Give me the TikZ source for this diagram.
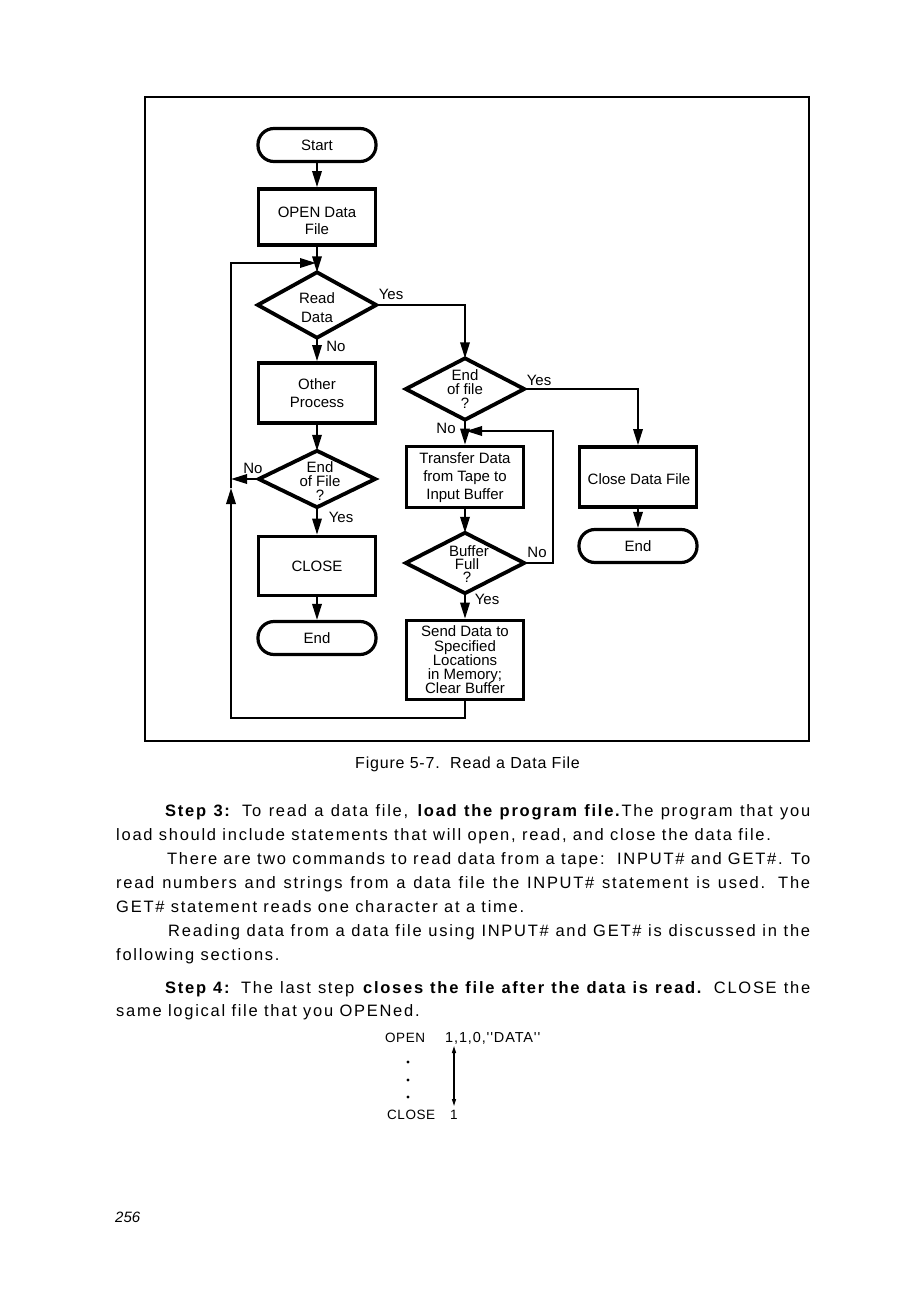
\documentclass[tikz,border=0pt]{standalone}
\usepackage{fontspec}
\setmainfont{Liberation Sans}
\newfontfamily\bodyfont{Liberation Sans}[LetterSpace=10.5]
\newfontfamily\capfont{Liberation Sans}[LetterSpace=5]
\newfontfamily\codefont{Liberation Sans}[LetterSpace=4]
\newfontfamily\codewidefont{Liberation Sans}[LetterSpace=6]
\usetikzlibrary{arrows.meta}
\newcommand\dfont[1]{\fontsize{15}{#1}\selectfont}
\tikzset{
  box/.style={draw, line width=3.8pt, minimum width=117pt, inner sep=0pt, align=center, font=\dfont{18}},
  btext/.style={inner sep=0pt, align=center, font=\dfont{18}},
  term/.style={draw, line width=3.2pt, rounded corners=16pt, minimum width=118pt, minimum height=33pt, inner sep=0pt, font=\dfont{18}},
  dia/.style={minimum width=118pt, inner sep=0pt},
  dtext/.style={inner sep=0pt, align=center},
  diaborder/.style={line width=3.8pt},
  conn/.style={line width=1.8pt},
  arr/.style={conn, -{Triangle[length=16pt,width=9.5pt]}},
  lbl/.style={font=\dfont{18}, inner sep=0pt},
  txt/.style={anchor=base west, inner sep=0pt, font=\fontsize{16.5}{19}\selectfont\bodyfont},
  code/.style={anchor=base west, inner sep=0pt, font=\fontsize{13.5}{16}\selectfont\codefont},
}
\begin{document}
\begin{tikzpicture}[x=1pt,y=-1pt]
\useasboundingbox (0,0) rectangle (919,1313);
\fill[white] (0,0) rectangle (919,1313);
% frame
\draw[line width=2.2pt] (145,97) rectangle (809,741);
% left column
\node[term] (start) at (317,145) {Start};
\node[box, minimum height=56pt] (open) at (317,217) {};
\node[btext, font=\dfont{17}] (openT) at (317,220.5) {OPEN Data\\File};
\node[dia, minimum height=65pt] (read) at (317,305) {};
\node[dtext, font=\dfont{19}] (readT) at (317,307.5) {Read\\Data};
\node[box, minimum height=60pt] (other) at (317,393) {Other\\Process};
\node[dia, minimum width=116pt, minimum height=56pt] (eofL) at (317,479) {};
\node[dtext, font=\dfont{14}] (eofLT) at (320,481.5) {End\\of File\\?};
\node[box, minimum height=59pt] (close) at (317,566) {CLOSE};
\node[term] (endL) at (317,638) {End};
% middle column
\node[dia, minimum height=61pt] (eofR) at (465,389) {};
\node[dtext, font=\dfont{14}] (eofRT) at (465,389) {End\\of file\\?};
\node[box, minimum height=61pt] (transfer) at (465,477) {};
\node[btext] (transferT) at (465,478) {Transfer Data\\from Tape to\\Input Buffer};
\node[dia, minimum height=60pt] (buf) at (465,563) {};
\node[dtext, font=\dfont{13}] (bufT) at (467,564) {\hspace*{4pt}Buffer\\Full\\?};
\node[box, minimum height=79pt, font=\dfont{14.3}] (send) at (465,660) {Send Data to\\Specified\\Locations\\in Memory;\\Clear Buffer};
% right column
\node[box, minimum height=60pt] (closeR) at (638,477) {};
\node[btext] (closeRT) at (639,479) {Close Data File};
\node[term] (endR) at (638,546) {End};
% diamond borders
\foreach \d in {read,eofL,eofR,buf}
  \draw[diaborder] (\d.north) -- (\d.east) -- (\d.south) -- (\d.west) -- cycle;
% helper coordinates
\coordinate (lb) at (231,718);
\coordinate (lup) at (231,488);
\coordinate (lt) at (231,263);
\coordinate (lj) at (316,263);
\coordinate (bl) at (553,431);
\coordinate (tin) at (466,431);
% connectors
\draw[arr] (start) -- (open);
\draw[arr] (open) -- (read.north);
\draw[arr] (read.south) -- (other);
\draw[arr] (other) -- (eofL.north);
\draw[arr] (eofL.south) -- (close);
\draw[arr] (close) -- (endL);
\draw[arr] (read.east) -| (eofR.north);
\draw[arr] (eofR.east) -| (closeR.north);
\draw[arr] (closeR) -- (endR);
\draw[arr] (eofR.south) -- (transfer);
\draw[arr] (transfer) -- (buf.north);
\draw[arr] (buf.south) -- (send);
\draw[arr] (buf.east) -| (bl) -- (tin);
\draw[arr] (send.south) |- (lb) -- (lup);
\draw[arr] (lup) -- (lt) -- (lj);
\draw[arr] (eofL.west) -- (eofL.west -| lb);
% labels
\node[lbl] (y1) at (391,294) {Yes};
\node[lbl] (n1) at (336,346) {No};
\node[lbl] (y2) at (539,380) {Yes};
\node[lbl] (n2) at (446,428) {No};
\node[lbl] (n3) at (253,468) {No};
\node[lbl] (y3) at (341,517) {Yes};
\node[lbl] (n4) at (537,552) {No};
\node[lbl] (y4) at (487,599) {Yes};
% caption
\node[anchor=base west, inner sep=0pt, font=\fontsize{16}{19}\selectfont\capfont] (cap) at (355,768.5) {Figure 5-7.\ \ Read a Data File};
% body text
\node[txt] (t1) at (165,816) {\makebox[645pt][s]{\textbf{Step 3:} To read a data file, \textbf{load the program file.}The program that you}};
\node[txt] (t2) at (116,840) {load should include statements that will open, read, and close the data file.};
\node[txt] (t3) at (167,864) {\makebox[643pt][s]{There are two commands to read data from a tape:\ \ INPUT\# and GET\#. To}};
\node[txt] (t4) at (116,888) {\makebox[694pt][s]{read numbers and strings from a data file the INPUT\# statement is used. The}};
\node[txt] (t5) at (116,912) {GET\# statement reads one character at a time.};
\node[txt] (t6) at (168,936) {\makebox[642pt][s]{Reading data from a data file using INPUT\# and GET\# is discussed in the}};
\node[txt] (t7) at (116,960) {following sections.};
\node[txt] (t8) at (165,993) {\makebox[645pt][s]{\textbf{Step 4:} The last step \textbf{closes the file after the data is read.} CLOSE the}};
\node[txt] (t9) at (116,1016) {same logical file that you OPENed.};
% code
\node[code] (c1) at (385,1042) {OPEN};
\node[code, font=\fontsize{14.5}{16}\selectfont\codewidefont] (c2) at (445,1042) {1,1,0,''DATA''};
\node[code] (c3) at (387,1119) {CLOSE};
\node[code] (c4) at (450,1119) {1};
\foreach \yy in {1062,1080,1097} \fill (408,\yy) circle (1.6pt);
\coordinate (a1) at (454,1046);
\coordinate (a2) at (454,1106);
\draw[line width=1.2pt, {Triangle[length=7pt,width=4pt]}-{Triangle[length=7pt,width=4pt]}] (a1) -- (a2);
% page number
\node[anchor=base west, inner sep=0pt, font=\fontsize{15}{18}\selectfont\itshape] (pg) at (115,1222) {256};
\end{tikzpicture}
\end{document}
